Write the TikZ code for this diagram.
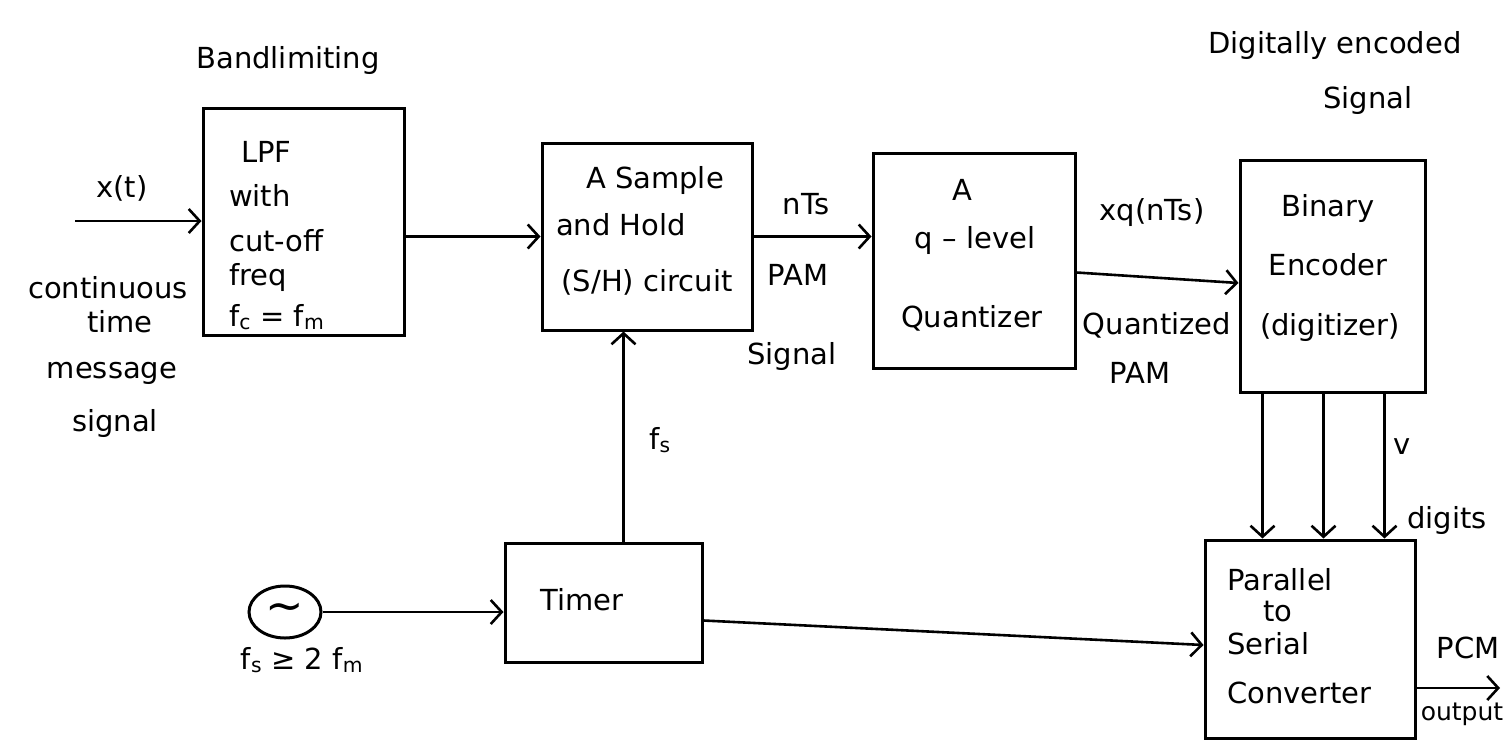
\documentclass[tikz,border=0pt]{standalone}
\usepackage{fontspec}
\setmainfont{DejaVu Sans}
\usetikzlibrary{arrows.meta,shapes.geometric}
\begin{document}
\begin{tikzpicture}[x=1pt,y=-1pt,
  every node/.style={font=\fontsize{29}{34}\selectfont},
  blk/.style={draw,line width=3pt,inner sep=0pt},
  lbl/.style={inner sep=1pt},
  arr/.style={line width=2.6pt,-{Straight Barb[length=11pt,width=24pt,line width=2.6pt]}},
  ln/.style={line width=2.6pt}]
\useasboundingbox (0,0) rectangle (1510,753);
\fill[white] (0,0) rectangle (1510,753);
% blocks
\node[blk,minimum width=201,minimum height=227] (lpf) at (303.5,221.5) {};
\node[blk,minimum width=210,minimum height=187] (sh) at (647,236.5) {};
\node[blk,minimum width=202,minimum height=215] (q) at (974,260.5) {};
\node[blk,minimum width=185,minimum height=232] (enc) at (1332.5,276) {};
\node[blk,minimum width=210,minimum height=198] (ps) at (1310,639) {};
\node[blk,minimum width=197,minimum height=119] (tim) at (603.5,602.5) {};
\node[draw,line width=3pt,ellipse,minimum width=72,minimum height=52,inner sep=0pt] (src) at (285,612) {};
\node[inner sep=0pt,font=\fontsize{46}{46}\selectfont] (srcsym) at (src.center) {∼};
% block texts
\node[lbl,anchor=west] (t1) at (240,152) {LPF};
\node[lbl,anchor=west] (t2) at (228,195) {with};
\node[lbl,anchor=west] (t3) at (228,241) {cut-off};
\node[lbl,anchor=west] (t4) at (228,277) {freq};
\node[lbl,anchor=west] (t5) at (228,317) {f\textsubscript{c} = f\textsubscript{m}};
\node[lbl] (s1) at (655,180) {A Sample};
\node[lbl,anchor=west] (s2) at (555,225) {and Hold};
\node[lbl] (s3) at (647,282) {(S/H) circuit};
\node[lbl] (q1) at (962,190) {A};
\node[lbl] (q2) at (975,240) {q – level};
\node[lbl] (q3) at (972,318) {Quantizer};
\node[lbl] (e1) at (1328,208) {Binary};
\node[lbl] (e2) at (1328,265) {Encoder};
\node[lbl] (e3) at (1330,327) {(digitizer)};
\node[lbl,anchor=west] (p1) at (1226,580) {Parallel};
\node[lbl] (p2) at (1278,612) {to};
\node[lbl,anchor=west] (p3) at (1226,644) {Serial};
\node[lbl,anchor=west] (p4) at (1226,693) {Converter};
\node[lbl] (tt) at (582,600) {Timer};
% free labels
\node[lbl] (band) at (288,60) {Bandlimiting};
\node[lbl] (dig1) at (1335,45) {Digitally encoded};
\node[lbl] (dig2) at (1368,100) {Signal};
\node[lbl] (xt) at (122,188) {x(t)};
\node[lbl] (c1) at (108,288) {continuous};
\node[lbl] (c2) at (120,322) {time};
\node[lbl] (c3) at (112,373) {message};
\node[lbl] (c4) at (115,423) {signal};
\node[lbl] (nts) at (806,204) {nTs};
\node[lbl] (pam1) at (798,275) {PAM};
\node[lbl] (sig1) at (792,356) {Signal};
\node[lbl] (xq) at (1152,213) {xq(nTs)};
\node[lbl] (qp1) at (1157,325) {Quantized};
\node[lbl] (qp2) at (1140,373) {PAM};
\node[lbl] (fs) at (660,440) {f\textsubscript{s}};
\node[lbl] (v) at (1402,447) {v};
\node[lbl] (digits) at (1447,520) {digits};
\node[lbl] (fcond) at (302,660) {f\textsubscript{s} ≥ 2 f\textsubscript{m}};
\node[lbl] (pcm) at (1468,648) {PCM};
\node[lbl,font=\fontsize{25}{30}\selectfont] (outp) at (1462,714) {output};
% connectors
\coordinate (xin) at (75,221);
\draw[arr] (xin) -- (xin -| lpf.west);
\draw[arr] (lpf.east |- sh.west) -- (sh.west);
\draw[arr] (sh.east) -- (sh.east -| q.west);
\draw[arr] ([yshift=-12]q.east) -- ([yshift=-7]enc.west);
\foreach \dx in {-70,-9,52}{
  \draw[arr] ([xshift=\dx]enc.south) -- ([xshift=\dx]enc.south |- ps.north);
}
\draw[arr] (src.east) -- (src.east -| tim.west);
\draw[arr] ([xshift=20]tim.north) -- ([xshift=20]tim.north |- sh.south);
\draw[arr] ([yshift=-18]tim.east) -- ([yshift=-6]ps.west);
\coordinate (pcmout) at (1500,688);
\draw[arr] (pcmout -| ps.east) -- (pcmout);
\end{tikzpicture}
\end{document}
